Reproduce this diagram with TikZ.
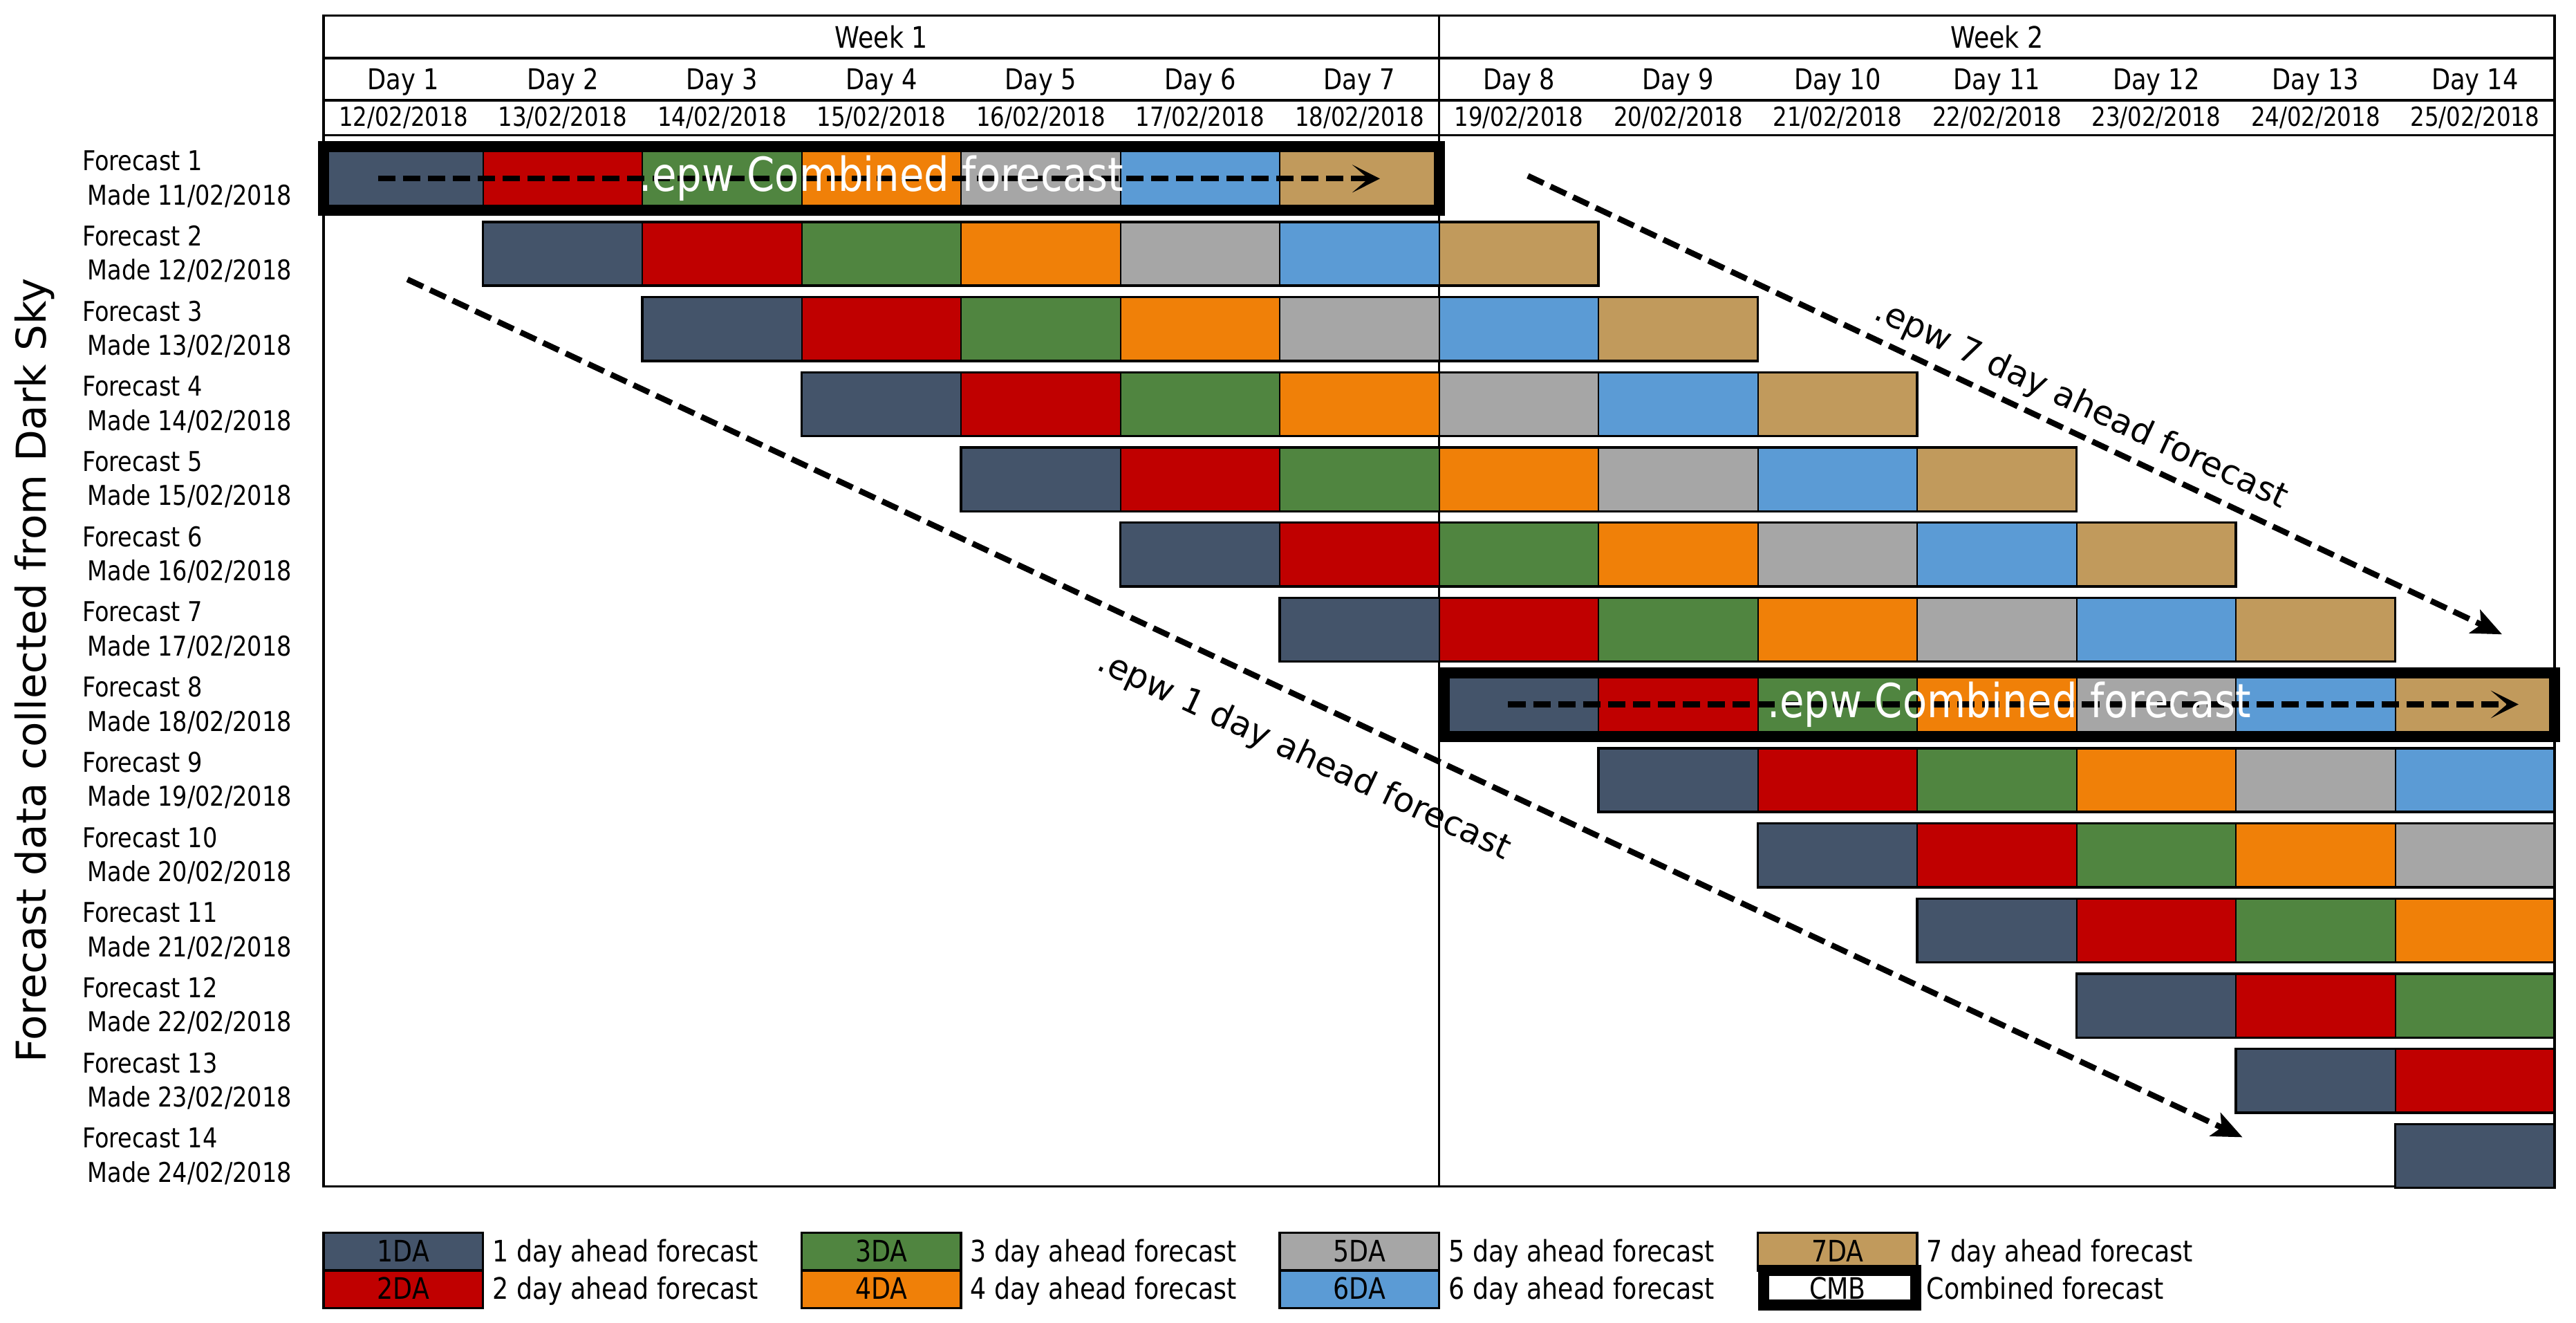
\documentclass[tikz,border=0pt]{standalone}
\usepackage{fontspec}
\setmainfont{DejaVu Sans}[FakeStretch=0.85]
\newfontfamily\widefont{DejaVu Sans}
\usepackage{tikz}
\usetikzlibrary{arrows.meta}

\definecolor{da1}{HTML}{44546A}
\definecolor{da2}{HTML}{C00000}
\definecolor{da3}{HTML}{508540}
\definecolor{da4}{HTML}{F08008}
\definecolor{da5}{HTML}{A6A6A6}
\definecolor{da6}{HTML}{5B9BD5}
\definecolor{da7}{HTML}{C19A5C}

\begin{document}
\begin{tikzpicture}[x=0.025cm, y=-0.025cm,
	frame/.style={draw=black, line width=1pt},
	cell/.style={draw=black, line width=0.6pt},
	bar/.style={draw=black, line width=1pt},
	combined/.style={draw=black, line width=4.8pt},
	flow/.style={line width=2.5pt, dash pattern=on 7.5pt off 3.3pt, -{Stealth[length=12pt, width=12pt, inset=7pt]}},
	trend/.style={line width=2.5pt, dash pattern=on 7.5pt off 3.3pt, -{Stealth[length=13pt, width=11pt, inset=3pt]}},
	weektext/.style={anchor=base, font=\fontsize{12.8pt}{14pt}\selectfont},
	daytext/.style={anchor=base, font=\fontsize{12.4pt}{14pt}\selectfont},
	datetext/.style={anchor=base, font=\fontsize{11.4pt}{13pt}\selectfont},
	rowtext/.style={anchor=base west, inner sep=0pt, font=\fontsize{11.8pt}{13pt}\selectfont},
	keytext/.style={anchor=base west, inner sep=0pt, font=\fontsize{12.8pt}{14pt}\selectfont},
	keybox/.style={anchor=base, font=\fontsize{12.8pt}{14pt}\selectfont},
	combotext/.style={anchor=base, text=white, font=\fontsize{20.3pt}{22pt}\selectfont},
	slanttext/.style={rotate=-25, font=\widefont\fontsize{14.7pt}{16pt}\selectfont},
	sidetext/.style={rotate=90, font=\widefont\fontsize{17.8pt}{19pt}\selectfont}]
	\useasboundingbox (0,0) rectangle (1568,805);

	\draw[frame] (197,9.5) rectangle (1555,722);
	\draw[frame] (197,35.3) -- (1555,35.3);
	\draw[frame] (197,61) -- (1555,61);
	\draw[frame] (197,82.4) -- (1555,82.4);
	\draw[line width=0.8pt] (876,9.5) -- (876,722);

	\node[weektext] (week1) at (536.5,29.4) {Week 1};
	\node[weektext] (week2) at (1215.5,29.4) {Week 2};
	\foreach \n in {1,...,14} {
		\pgfmathtruncatemacro\dateno{11+\n}
		\node[daytext] (day\n) at ({197+(\n-0.5)*97},54.7) {Day \n};
		\node[datetext] (date\n) at ({197+(\n-0.5)*97},76.7) {\dateno/02/2018};
	}

	\foreach \i in {1,...,14} {
		\pgfmathsetmacro\rowtop{89.3+(\i-1)*45.75}
		\pgfmathtruncatemacro\madeno{10+\i}
		\node[rowtext] (fc\i) at (49.9,\rowtop+14.5) {Forecast \i};
		\node[rowtext] (made\i) at (53,\rowtop+35.3) {Made \madeno/02/2018};
		\foreach \k in {1,...,7} {
			\pgfmathtruncatemacro\dayno{\i+\k-1}
			\ifnum\dayno<15
				\draw[cell, fill=da\k] ({197+(\dayno-1)*97},\rowtop) rectangle ++(97,38.8);
			\fi
		}
		\pgfmathtruncatemacro\lastday{min(\i+6,14)}
		\draw[bar] ({197+(\i-1)*97},\rowtop) rectangle ({197+\lastday*97},\rowtop+38.8);
	}

	\draw[combined] (197,89.3) rectangle (876,128.1);
	\draw[combined] (879,409.5) rectangle (1555,448.3);

	\coordinate (go1) at (230,108.7);
	\coordinate (end1) at (840,108.7);
	\coordinate (go8) at (918,428.6);
	\coordinate (end8) at (1533,428.6);
	\draw[flow] (go1) -- (end1);
	\draw[flow] (go8) -- (end8);
	\node[combotext] (cmb1) at (536.5,116.4) {.epw Combined forecast};
	\node[combotext] (cmb8) at (1223,436.8) {.epw Combined forecast};

	\coordinate (one start) at (248,170);
	\coordinate (one end) at (1365,692);
	\coordinate (seven start) at (930,107);
	\coordinate (seven end) at (1523,386);
	\draw[trend] (one start) -- (one end);
	\draw[trend] (seven start) -- (seven end);
	\node[slanttext] (one label) at (793.5,460) {.epw 1 day ahead forecast};
	\node[slanttext] (seven label) at (1266.5,246.5) {.epw 7 day ahead forecast};

	\node[sidetext] (side) at (21,408) {Forecast data collected from Dark Sky};

	\foreach \col/\row/\k in {197/750/1, 197/773/2, 488/750/3, 488/773/4, 779/750/5, 779/773/6, 1070/750/7} {
		\draw[bar, fill=da\k] (\col,\row) rectangle ++(97,23);
		\node[keybox] (key\k) at (\col+48.5,\row+17.6) {\k DA};
		\node[keytext] (keylabel\k) at (\col+102.5,\row+17.6) {\k{} day ahead forecast};
	}
	\draw[combined, fill=white] (1073.5,773) rectangle (1166.3,794.2);
	\node[keybox] (keycmb) at (1118.5,790.6) {CMB};
	\node[keytext] (keylabelcmb) at (1172.5,790.6) {Combined forecast};
\end{tikzpicture}
\end{document}
